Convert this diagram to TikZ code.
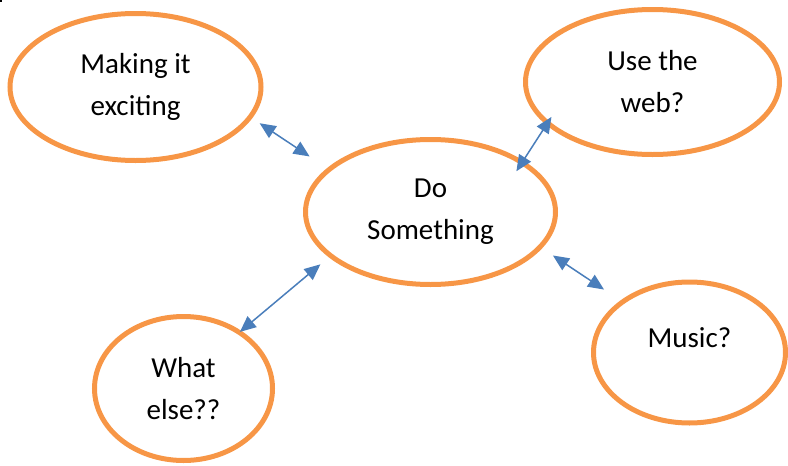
\documentclass[tikz,border=0pt]{standalone}
\usepackage{fontspec}
\setmainfont{Carlito}
\usetikzlibrary{arrows.meta,shapes.geometric}
\definecolor{ideaorange}{HTML}{F79646}
\definecolor{linkblue}{HTML}{4A7EBB}
\begin{document}
\begin{tikzpicture}[x=1pt, y=-1pt,
  idea/.style={draw=ideaorange, line width=5pt, ellipse, inner sep=0pt,
               align=center, font=\fontsize{29}{42}\selectfont},
  link/.style={linkblue, line width=1.5pt,
               {Triangle[length=16pt,width=14pt]}-{Triangle[length=16pt,width=14pt]}}]
  \useasboundingbox (0,0) rectangle (788,466);
  \fill (0,0) rectangle (2,2);
  \node[idea, minimum width=251pt, minimum height=147pt] (excite) at (135.5,87) {Making it\\exciting};
  \node[idea, minimum width=254pt, minimum height=145pt] (web) at (652.5,82) {Use the\\web?};
  \node[idea, minimum width=250pt, minimum height=145pt] (do) at (430.5,212) {Do\\Something};
  \node[idea, minimum width=192pt, minimum height=141pt] (music) at (689.5,352.5) {\smash{\raisebox{5.5pt}{Music?}}};
  \node[idea, minimum width=178pt, minimum height=144pt] (other) at (183.5,388.5) {What\\else??};
  \draw[link, shorten <=9pt, shorten >=21pt] (excite.-15) -- (do.157);
  \draw[link, shorten <=-12.7pt, shorten >=-9.5pt] (do.29.4) -- (web.-158.8);
  \draw[link, shorten <=13pt, shorten >=19.7pt] (do.-18.9) -- (music.143.7);
  \draw[link, shorten <=11pt, shorten >=-1.8pt] (do.-156) -- (other.45.9);
\end{tikzpicture}
\end{document}
